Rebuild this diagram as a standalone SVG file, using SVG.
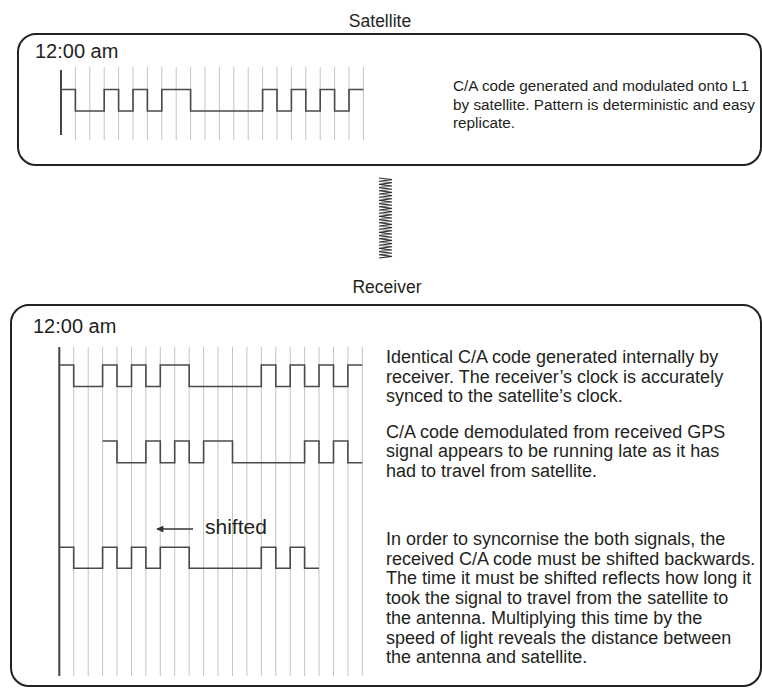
<svg xmlns="http://www.w3.org/2000/svg" width="762" height="688" viewBox="0 0 762 688">
<defs>
<style>
.box{fill:#fff;stroke:#222;stroke-width:2}
.lbl{font-family:"Liberation Sans",Arial,sans-serif;fill:#231f20}
.title{font-size:17.5px;text-anchor:middle}
.time{font-size:20px}
.desc{font-size:18px}
.sdesc{font-size:15.3px}
.grid{stroke:#c4c4c4;stroke-width:1;fill:none}
.axis{stroke:#444;stroke-width:2;fill:none}
.wave{stroke:#4a4a4a;stroke-width:1.6;fill:none;stroke-linejoin:miter}
.spring{stroke:#333;stroke-width:1.1;fill:none}
</style>
<marker id="ah" viewBox="0 0 10 10" refX="9" refY="5" markerWidth="9" markerHeight="7" markerUnits="userSpaceOnUse" orient="auto">
<path d="M0,0 L10,5 L0,10 z" fill="#333"/>
</marker>
</defs>
<rect width="762" height="688" fill="#fff"/>

<g id="satellite">
<text class="lbl title" x="380" y="27">Satellite</text>
<rect class="box" x="18" y="34" width="743" height="131" rx="18" ry="18"/>
<text class="lbl time" x="35" y="58">12:00 am</text>
<path class="grid" d="M75.4,67V140M89.8,67V140M104.2,67V140M118.6,67V140M133,67V140M147.4,67V140M161.8,67V140M176.2,67V140M190.6,67V140M205,67V140M219.4,67V140M233.8,67V140M248.2,67V140M262.6,67V140M277,67V140M291.4,67V140M305.8,67V140M320.2,67V140M334.6,67V140M349,67V140M363.4,67V140"/>
<path class="axis" d="M61,70V135"/>
<path class="wave" d="M61,89.5H75.4V111H104.2V89.5H118.6V111H133V89.5H147.4V111H161.8V89.5H190.6V111H262.6V89.5H277V111H291.4V89.5H305.8V111H320.2V89.5H334.6V111H349V89.5H363.4"/>
<text class="lbl sdesc" x="453" y="91">C/A code generated and modulated onto L1</text>
<text class="lbl sdesc" x="453" y="109.5">by satellite. Pattern is deterministic and easy</text>
<text class="lbl sdesc" x="453" y="128">replicate.</text>
</g>

<g id="receiver">
<text class="lbl title" x="387" y="293">Receiver</text>
<rect class="box" x="11" y="305" width="750" height="381" rx="18" ry="18"/>
<text class="lbl time" x="33" y="333">12:00 am</text>
<path class="grid" d="M73.7,347V676M88.2,347V676M102.6,347V676M117,347V676M131.5,347V676M145.9,347V676M160.3,347V676M174.7,347V676M189.2,347V676M203.6,347V676M218,347V676M232.5,347V676M246.9,347V676M261.3,347V676M275.8,347V676M290.2,347V676M304.6,347V676M319,347V676M333.5,347V676M347.9,347V676M362.3,347V676"/>
<path class="axis" d="M59.3,347V676"/>
<path class="wave" d="M59.3,365H73.7V386.5H102.6V365H117V386.5H131.5V365H145.9V386.5H160.3V365H189.2V386.5H261.3V365H275.8V386.5H290.2V365H304.6V386.5H319V365H333.5V386.5H347.9V365H362.3"/>
<path class="wave" d="M102.6,441H117V462.7H145.9V441H160.3V462.7H174.7V441H189.2V462.7H203.6V441H232.5V462.7H304.6V441H319V462.7H333.5V441H347.9V462.7H362.3"/>
<path class="wave" d="M59.3,547.3H73.7V568.3H102.6V547.3H117V568.3H131.5V547.3H145.9V568.3H160.3V547.3H189.2V568.3H261.3V547.3H275.8V568.3H290.2V547.3H304.6V568.3H319"/>
<text class="lbl" x="205" y="534" font-size="21">shifted</text>
<text class="lbl desc" x="386" y="363">Identical C/A code generated internally by</text>
<text class="lbl desc" x="386" y="382.7">receiver. The receiver’s clock is accurately</text>
<text class="lbl desc" x="386" y="402.4">synced to the satellite’s clock.</text>
<text class="lbl desc" x="386" y="437.5">C/A code demodulated from received GPS</text>
<text class="lbl desc" x="386" y="457.2">signal appears to be running late as it has</text>
<text class="lbl desc" x="386" y="476.9">had to travel from satellite.</text>
<text class="lbl desc" x="386" y="545">In order to syncornise the both signals, the</text>
<text class="lbl desc" x="386" y="564.7">received C/A code must be shifted backwards.</text>
<text class="lbl desc" x="386" y="584.4">The time it must be shifted reflects how long it</text>
<text class="lbl desc" x="386" y="604.1">took the signal to travel from the satellite to</text>
<text class="lbl desc" x="386" y="623.8">the antenna. Multiplying this time by the</text>
<text class="lbl desc" x="386" y="643.5">speed of light reveals the distance between</text>
<text class="lbl desc" x="386" y="663.2">the antenna and satellite.</text>
</g>

<g id="connectors">
<path class="spring" d="M379,178l13,1.6-13,1.6 13,1.6-13,1.6 13,1.6-13,1.6 13,1.6-13,1.6 13,1.6-13,1.6 13,1.6-13,1.6 13,1.6-13,1.6 13,1.6-13,1.6 13,1.6-13,1.6 13,1.6-13,1.6 13,1.6-13,1.6 13,1.6-13,1.6 13,1.6-13,1.6 13,1.6-13,1.6 13,1.6-13,1.6 13,1.6-13,1.6 13,1.6-13,1.6 13,1.6-13,1.6 13,1.6-13,1.6 13,1.6-13,1.6 13,1.6-13,1.6 13,1.6-13,1.6 13,1.6-13,1.6 13,1.6-13,1.6 13,1.6-13,1.6"/>
<line x1="193" y1="529" x2="157" y2="529" stroke="#333" stroke-width="1.3" marker-end="url(#ah)"/>
</g>
</svg>
